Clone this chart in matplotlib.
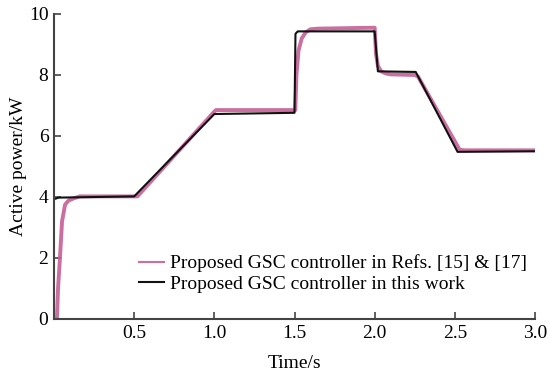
import numpy as np
import matplotlib as mpl
import matplotlib.pyplot as plt

mpl.rcParams['font.family'] = ['Liberation Serif', 'DejaVu Serif']
mpl.rcParams['font.size'] = 14

# 文献[15][17]方法的有功功率 (kW)
t_ref = [0.018, 0.025, 0.037, 0.05, 0.069, 0.09, 0.12, 0.16, 0.5, 0.52, 1.0, 1.01,
         1.505, 1.512, 1.525, 1.545, 1.57, 1.6, 1.65, 2.0, 2.008, 2.02, 2.04, 2.07,
         2.1, 2.25, 2.27, 2.53, 2.56, 3.0]
p_ref = [0.0, 1.0, 2.0, 3.2, 3.75, 3.88, 3.95, 4.02, 4.02, 4.02, 6.8, 6.85,
         6.85, 8.0, 8.8, 9.2, 9.4, 9.5, 9.52, 9.55, 8.7, 8.3, 8.12, 8.05,
         8.02, 8.0, 7.95, 5.55, 5.53, 5.53]

# 本文方法的有功功率 (kW)
t_new = [0.0, 0.03, 0.5, 1.0, 1.5, 1.506, 1.52, 2.0, 2.02, 2.256, 2.517, 3.0]
p_new = [3.93, 3.98, 4.02, 6.72, 6.76, 9.35, 9.43, 9.43, 8.12, 8.1, 5.48, 5.5]

fig = plt.figure(figsize=(5.49, 3.76), dpi=100, facecolor='w')
ax = fig.add_axes([0.0984, 0.1516, 0.8761, 0.8112])

ax.plot(t_ref, p_ref, color='#c65e96', lw=2.8, alpha=0.9, solid_joinstyle='round',
        label='Proposed GSC controller in Refs. [15] & [17]')
ax.plot(t_new, p_new, color='#111111', lw=1.5,
        label='Proposed GSC controller in this work')

ax.set_xlim(0, 3.0)
ax.set_ylim(0, 10)
ax.set_xticks([0.5, 1.0, 1.5, 2.0, 2.5, 3.0])
ax.set_xticklabels(['0.5', '1.0', '1.5', '2.0', '2.5', '3.0'])
ax.set_yticks([0, 2, 4, 6, 8, 10])
ax.tick_params(direction='in', length=5, width=1.2, color='#444444', pad=4)
for s in ['top', 'right']:
    ax.spines[s].set_visible(False)
for s in ['left', 'bottom']:
    ax.spines[s].set_linewidth(1.5)
    ax.spines[s].set_color('#444444')

ax.set_xlabel('Time/s', labelpad=10)
ax.set_ylabel('Active power/kW', labelpad=1)

leg = ax.legend(loc='lower right', bbox_to_anchor=(1.0, 0.06), frameon=False,
                handlelength=1.3, handletextpad=0.3, labelspacing=0.15,
                borderaxespad=0.0)
for h in leg.get_lines():
    h.set_linewidth(1.5)

fig.savefig('out.png', dpi=100)
